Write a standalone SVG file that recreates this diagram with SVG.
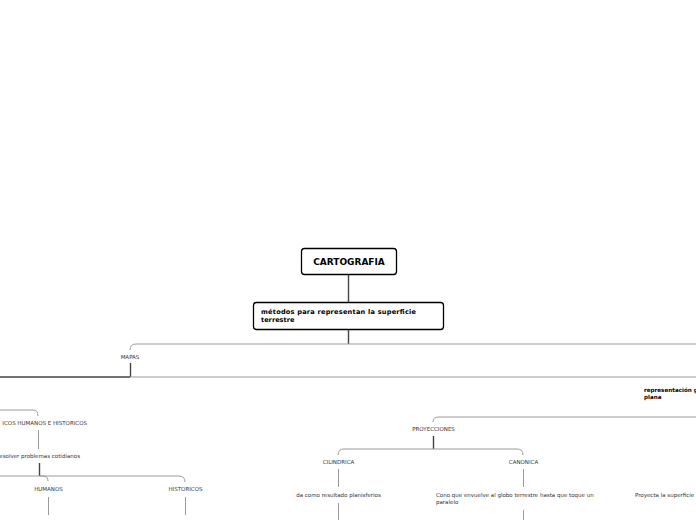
<svg xmlns="http://www.w3.org/2000/svg" width="696" height="520" viewBox="0 0 696 520">
<style>
.bx{fill:#fff;stroke:#000;stroke-width:1.3}
.t{font-family:"DejaVu Sans",Verdana,sans-serif;font-size:5.5px;fill:#333}
.b{font-family:"DejaVu Sans",Verdana,sans-serif;font-weight:bold;fill:#000}
.c{text-anchor:middle}
.ln{fill:none;stroke:#9a9a9a;stroke-width:1}
.dk{fill:none;stroke:#444;stroke-width:1.4}
</style>
<rect width="696" height="520" fill="#fff"/>
<g id="connectors">
<path class="dk" d="M348.5,274 V302"/>
<path class="dk" d="M348.5,329 V344"/>
<path class="ln" d="M130,350 Q130,344 136,344 H696"/>
<path class="dk" d="M130.5,363 V377"/>
<path class="dk" d="M0,377 H130"/>
<path class="ln" d="M130,377 H696"/>
<path class="ln" d="M433,422 Q433,417 439,417 H696"/>
<path class="dk" d="M433.5,436 V449"/>
<path class="ln" d="M338,455 Q338,449 344,449 H517 Q523,449 523,455"/>
<path class="ln" d="M338.5,469 V487"/>
<path class="ln" d="M338.5,503 V520"/>
<path class="ln" d="M523.5,469 V487"/>
<path class="ln" d="M523.5,510 V520"/>
<path class="ln" d="M0,410 H33 Q38,410 38,416"/>
<path class="ln" d="M38.5,430 V449"/>
<path class="dk" d="M39.5,463 V476"/>
<path class="ln" d="M0,476 H43 Q48,476 48,481"/>
<path class="ln" d="M40,476 H179 Q185,476 185,482"/>
<path class="ln" d="M48.5,497 V515"/>
<path class="ln" d="M185.5,497 V515"/>
</g>
<g id="cartografia">
<rect class="bx" x="301.5" y="248.5" width="95" height="26" rx="3"/>
<text class="b c" x="349" y="265" font-size="9">CARTOGRAFIA</text>
</g>
<g id="metodos">
<rect class="bx" x="253.5" y="302.5" width="190" height="27" rx="3"/>
<text class="b" x="261" y="313.5" font-size="6.6" textLength="155" lengthAdjust="spacing">métodos para representan la superficie</text>
<text class="b" x="261" y="321.5" font-size="6.6">terrestre</text>
</g>
<g id="mapas"><text class="t c" x="130" y="359">MAPAS</text></g>
<g id="representacion">
<text class="b" x="644" y="392" font-size="5.6">representación g</text>
<text class="b" x="644" y="398.5" font-size="5.6">plana</text>
</g>
<g id="proyecciones"><text class="t c" x="433.5" y="431">PROYECCIONES</text></g>
<g id="cilindrica"><text class="t c" x="338.5" y="464">CILINDRICA</text></g>
<g id="canonica"><text class="t c" x="523.5" y="464">CANONICA</text></g>
<g id="planisferios"><text class="t c" x="338.5" y="497">da como resultado planisferios</text></g>
<g id="cono">
<text class="t" x="436" y="497">Cono que envuelve al globo terrestre hasta que toque un</text>
<text class="t" x="436" y="504">paralelo</text>
</g>
<g id="proyecta"><text class="t" x="635" y="497">Proyecta la superficie</text></g>
<g id="tipos"><text class="t" x="87" y="425" text-anchor="end">ICOS HUMANOS E HISTORICOS</text></g>
<g id="resolver"><text class="t" x="80" y="458" text-anchor="end">esolver problemas cotidianos</text></g>
<g id="humanos"><text class="t c" x="48.5" y="491">HUMANOS</text></g>
<g id="historicos"><text class="t c" x="185.5" y="491">HISTORICOS</text></g>
</svg>
